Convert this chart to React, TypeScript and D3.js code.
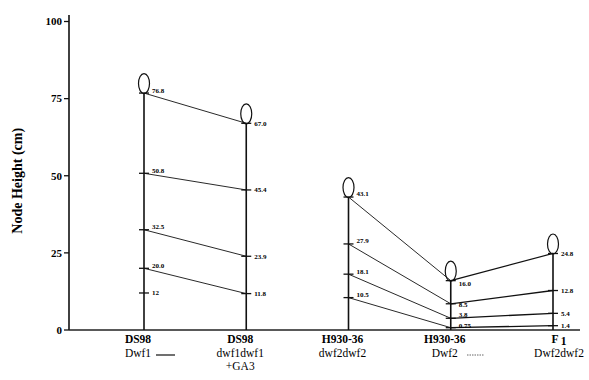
import React from "react";
import * as d3 from "d3";

const categoryLines: string[][] = [
  ["DS98", "Dwf1"],
  ["DS98", "dwf1dwf1", "+GA3"],
  ["H930-36", "dwf2dwf2"],
  ["H930-36", "Dwf2"],
  ["F1", "Dwf2dwf2"],
];
const values: number[][] = [
  [76.8, 50.8, 32.5, 20.0, 12],
  [67.0, 45.4, 23.9, 11.8],
  [43.1, 27.9, 18.1, 10.5],
  [16.0, 8.5, 3.8, 0.75],
  [24.8, 12.8, 5.4, 1.4],
];
const valueLabels: string[][] = [
  ["76.8", "50.8", "32.5", "20.0", "12"],
  ["67.0", "45.4", "23.9", "11.8"],
  ["43.1", "27.9", "18.1", "10.5"],
  ["16.0", "8.5", "3.8", "0.75"],
  ["24.8", "12.8", "5.4", "1.4"],
];
const links: [number, number][] = [
  [0, 1],
  [2, 3],
  [3, 4],
];
const yTicks = [0, 25, 50, 75, 100];
const yTitle = "Node Height (cm)";

const W = 589;
const H = 380;
const FONT = "'Liberation Serif', 'DejaVu Serif', serif";

// vertical label nudges (px) for the value labels of each stem
const labelShift: number[][] = [
  [-3, -3, -3, -3, 0],
  [0, 0, 0, 0],
  [-3, -3, -3, -3],
  [3, 1, -3.5, -2.5],
  [0, 0, 0, 0],
];

export default function App() {
  const y = d3.scaleLinear().domain([0, 100]).range([330, 21.5]);
  const x = d3
    .scalePoint<number>()
    .domain(categoryLines.map((_, i) => i))
    .range([144, 553]);
  const axisX = 69;

  return (
    <svg
      width={W}
      height={H}
      style={{ position: "absolute", left: 0, top: 0, background: "#fff" }}
      fontFamily={FONT}
    >
      {/* y axis */}
      <line x1={axisX} x2={axisX} y1={y(0)} y2={15} stroke="#111" strokeWidth={1.6} />
      {yTicks.map((t) => (
        <g key={t}>
          <line x1={axisX - 5} x2={axisX} y1={y(t)} y2={y(t)} stroke="#111" strokeWidth={1.3} />
          <text
            x={axisX - 7}
            y={y(t)}
            dy="0.35em"
            textAnchor="end"
            fontSize={11}
            fontWeight="bold"
          >
            {t}
          </text>
        </g>
      ))}
      <text
        transform={`translate(22,${(y(0) + y(100)) / 2 + 5}) rotate(-90)`}
        textAnchor="middle"
        fontSize={14}
        fontWeight="bold"
      >
        {yTitle}
      </text>
      {/* x axis */}
      <line x1={axisX} x2={580} y1={y(0)} y2={y(0)} stroke="#222" strokeWidth={1.6} />

      {/* connecting lines */}
      {links.map(([a, b]) =>
        values[a].map((v, k) =>
          k < values[b].length ? (
            <line
              key={`${a}-${b}-${k}`}
              x1={x(a)!}
              y1={y(v)}
              x2={x(b)!}
              y2={y(values[b][k])}
              stroke="#111"
              strokeWidth={a === 3 ? 1.3 : 0.9}
            />
          ) : null
        )
      )}

      {/* stems */}
      {values.map((vals, i) => {
        const cx = x(i)!;
        const top = d3.max(vals)!;
        return (
          <g key={i}>
            <line x1={cx} x2={cx} y1={y(0)} y2={y(top)} stroke="#111" strokeWidth={1.6} />
            <ellipse
              cx={cx}
              cy={y(top) - 9.5}
              rx={5.5}
              ry={10}
              fill="none"
              stroke="#111"
              strokeWidth={1.2}
            />
            {vals.map((v, k) => (
              <g key={k}>
                <line x1={cx - 5} x2={cx + 5} y1={y(v)} y2={y(v)} stroke="#111" strokeWidth={1.3} />
                <text
                  x={cx + 8}
                  y={y(v) + labelShift[i][k]}
                  dy="0.35em"
                  fontSize={7}
                  fontWeight="bold"
                >
                  {valueLabels[i][k]}
                </text>
              </g>
            ))}
          </g>
        );
      })}

      {/* category labels */}
      {categoryLines.map((lines, i) => {
        const cx = x(i)! + (i === 4 ? 6 : -6);
        return (
          <g key={i}>
            {lines.map((ln, j) => (
              <text
                key={j}
                x={cx}
                y={343 + j * 13.5}
                textAnchor="middle"
                fontSize={11.5}
                fontWeight={j === 0 ? "bold" : "normal"}
              >
                {ln === "F1" ? (
                  <>
                    F<tspan dy="2" dx="2">1</tspan>
                  </>
                ) : (
                  ln
                )}
              </text>
            ))}
          </g>
        );
      })}
      {/* line style markers */}
      <line x1={156} x2={175} y1={355} y2={355} stroke="#111" strokeWidth={1.2} />
      <line x1={467} x2={484} y1={355} y2={355} stroke="#555" strokeWidth={0.9} strokeDasharray="1.5,1" />
    </svg>
  );
}
